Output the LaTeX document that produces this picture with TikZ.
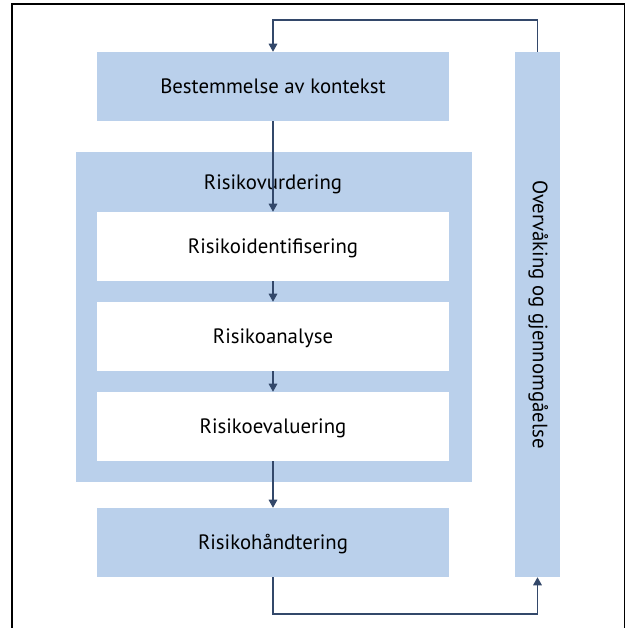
\documentclass[tikz,border=0pt]{standalone}
\usepackage{fontspec}
\setmainfont{PT Sans}
\usetikzlibrary{arrows.meta}
\definecolor{boxblue}{HTML}{BAD0EB}
\definecolor{linkcol}{HTML}{33486A}
\tikzset{
  label text/.style={font=\fontsize{15.6}{18}\selectfont, text height=13pt, text depth=3pt},
  stepbox/.style={fill=boxblue, draw=none, minimum width=264pt, minimum height=51.75pt, inner sep=0pt, label text},
  innerbox/.style={stepbox, fill=white},
  link/.style={draw=linkcol, line width=0.8pt},
  arr/.style={link, -{Triangle[length=6pt,width=6.5pt]}},
}
\begin{document}
\begin{tikzpicture}[x=0.75pt, y=-0.75pt]
\useasboundingbox (0,0) rectangle (626,628);
% open frame
\draw[line width=1.3pt] (12,628) -- (12,4) -- (624.5,4) -- (624.5,628);

% boxes
\node[stepbox] (ctx) at (273,86.5) {Bestemmelse av kontekst};
\node[fill=boxblue, minimum width=297pt, minimum height=247.5pt, inner sep=0pt] (vurd) at (274,317) {};
\node[label text, inner sep=0pt] (vurdlabel) at (273,183) {Risikovurdering};
\node[innerbox] (ident) at (273,246.5) {Risikoidentifisering};
\node[innerbox] (anal) at (273,336.5) {Risikoanalyse};
\node[innerbox] (eval) at (273,426.5) {Risikoevaluering};
\node[stepbox] (hand) at (273,542.5) {Risikohåndtering};
\node[fill=boxblue, minimum width=33.75pt, minimum height=393.75pt, inner sep=0pt] (mon) at (537.5,314.5) {};
\node[rotate=-90, label text, text height=10pt, inner sep=0pt] (monlabel) at (537.5,314.5) {Overvåking og gjennomgåelse};

% flow
\draw[arr] (ctx.south) -- (ident.north);
\draw[arr] (ident.south) -- (anal.north);
\draw[arr] (anal.south) -- (eval.north);
\draw[arr] (eval.south) -- (hand.north);

% feedback loop
\coordinate (botL) at (273,614);
\coordinate (botR) at (537.5,614);
\coordinate (topR) at (537.5,20);
\coordinate (topL) at (273,20);
\draw[arr] (hand.south) -- (botL) -- (botR) -- (mon.south);
\draw[arr] (mon.north) -- (topR) -- (topL) -- (ctx.north);
\end{tikzpicture}
\end{document}
